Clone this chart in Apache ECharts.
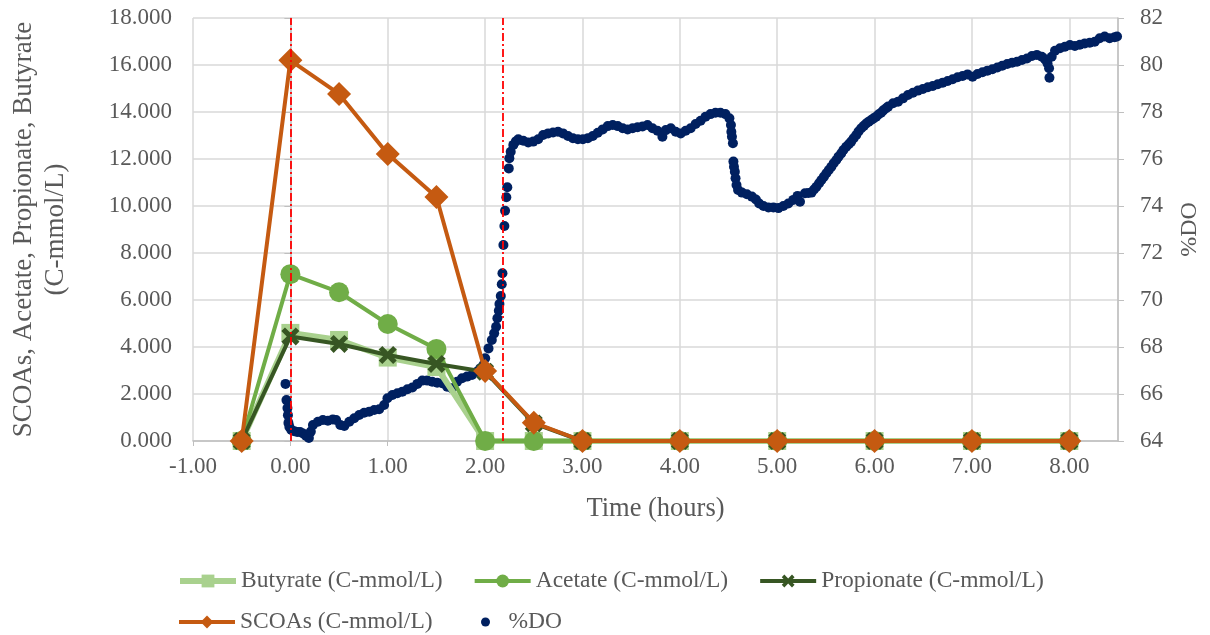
<!DOCTYPE html>
<html><head><meta charset="utf-8">
<script src="https://cdn.jsdelivr.net/npm/echarts@6/dist/echarts.min.js"></script>
<style>html,body{margin:0;padding:0;background:#fff}#c{width:1210px;height:635px}</style>
</head><body><div id="c"></div>
<script>
// ---------------- data ----------------
const sampleTimes = [-0.5, 0, 0.5, 1, 1.5, 2, 2.5, 3, 4, 5, 6, 7, 8];
const butyrate   = [0, 4.60, 4.30, 3.55, 3.15, 0, 0, 0, 0, 0, 0, 0, 0];
const acetate    = [0, 7.10, 6.33, 4.98, 3.92, 0, 0, 0, 0, 0, 0, 0, 0];
const propionate = [0, 4.45, 4.13, 3.66, 3.28, 2.95, 0.75, 0, 0, 0, 0, 0, 0];
const scoas      = [0, 16.20, 14.77, 12.21, 10.38, 2.98, 0.78, 0, 0, 0, 0, 0, 0];

const doTime = [
 -0.05,-0.04,-0.03,-0.025,-0.02,-0.01,0.01,0.04,0.07,0.10,0.13,0.16,0.19,0.21,
 0.232,0.283,0.334,0.385,0.436,0.470,0.513,0.554,0.605,0.656,0.707,0.758,0.810,0.861,0.912,0.963,
 0.997,1.048,1.099,1.150,1.202,1.253,1.304,1.355,1.406,1.457,1.508,1.559,1.610,1.661,1.712,1.763,
 1.814,1.865,1.916,1.950,1.983,
 2.001,2.035,2.069,2.093,2.113,2.126,2.141,2.147,2.161,2.171,2.178,2.188,2.198,2.205,2.218,2.228,
 2.243,2.249,2.263,2.290,2.316,
 2.341,2.392,2.443,2.494,2.545,2.596,2.647,2.698,2.749,2.800,2.851,2.902,2.953,3.004,3.055,3.106,
 3.157,3.208,3.260,3.311,3.362,3.413,3.464,3.515,3.566,3.617,3.668,3.719,3.770,3.821,3.856,3.907,
 3.958,4.009,4.060,4.111,4.162,4.213,4.264,4.315,4.366,4.417,4.468,4.509,4.525,4.529,4.535,4.545,
 4.550,4.556,4.565,4.572,4.582,4.598,4.638,4.689,4.740,4.781,4.815,4.859,4.910,4.961,5.012,5.063,
 5.114,5.165,5.209,5.234,5.285,5.32,5.352,5.378,5.403,5.43,5.454,5.48,5.505,5.53,5.556,5.58,5.607,
 5.63,5.658,5.68,5.709,5.735,5.760,5.785,5.812,5.835,5.863,5.89,5.914,5.94,5.965,5.99,6.016,6.04,
 6.067,6.09,6.118,
 6.139,6.190,6.241,6.292,6.343,6.394,6.445,6.496,6.547,6.598,6.649,6.700,6.751,6.802,6.853,6.904,
 6.955,7.006,7.057,7.108,7.159,7.210,7.261,7.311,7.362,7.413,7.463,7.514,7.565,7.616,7.667,7.718,
 7.751,7.776,7.792,7.796,7.819,7.853,7.904,7.955,8.006,8.057,8.108,8.159,8.210,8.261,8.312,8.363,
 8.414,8.465,8.490
];
const doValue = [
 66.43,65.74,65.40,65.10,64.77,64.60,64.47,64.42,64.38,64.38,64.32,64.22,64.13,64.40,
 64.68,64.82,64.89,64.86,64.92,64.89,64.68,64.64,64.82,64.97,65.11,65.20,65.25,65.32,65.35,65.53,
 65.82,65.96,66.03,66.10,66.20,66.28,66.43,66.57,66.57,66.52,66.48,66.46,66.31,66.24,66.52,66.67,
 66.74,66.81,66.95,67.09,67.23,
 67.52,67.94,68.30,68.58,68.86,69.22,69.54,69.83,70.17,70.67,71.14,72.34,73.15,73.80,74.37,74.80,
 75.60,76.03,76.31,76.60,76.75,
 76.84,76.78,76.70,76.74,76.84,77.02,77.09,77.13,77.16,77.09,76.98,76.88,76.84,76.84,76.88,76.98,
 77.12,77.26,77.40,77.45,77.40,77.31,77.26,77.31,77.35,77.38,77.45,77.31,77.20,76.95,77.23,77.31,
 77.16,77.09,77.20,77.31,77.49,77.63,77.80,77.91,77.97,77.97,77.91,77.73,77.45,77.16,76.95,76.67,
 75.89,75.67,75.46,75.18,74.89,74.68,74.57,74.50,74.40,74.28,74.11,74.00,73.94,73.94,73.91,74.00,
 74.11,74.26,74.43,74.18,74.54,74.55,74.57,74.70,74.82,74.97,75.11,75.25,75.39,75.53,75.67,75.82,75.96,
 76.10,76.24,76.38,76.52,76.63,76.74,76.88,77.02,77.17,77.31,77.41,77.51,77.59,77.66,77.73,77.80,77.89,
 77.97,78.07,78.16,
 78.23,78.37,78.44,78.58,78.72,78.82,78.91,78.98,79.05,79.11,79.18,79.25,79.32,79.39,79.48,79.53,
 79.60,79.50,79.62,79.69,79.76,79.82,79.89,79.97,80.04,80.10,80.14,80.21,80.28,80.38,80.43,80.35,
 80.24,80.07,79.86,79.46,80.35,80.61,80.71,80.78,80.85,80.81,80.86,80.92,80.95,80.99,81.14,81.21,
 81.14,81.18,81.21
];
const phaseLines = [0, 2.18];
const names = ['Butyrate (C-mmol/L)', 'Acetate (C-mmol/L)', 'Propionate (C-mmol/L)', 'SCOAs (C-mmol/L)', '%DO'];

// ---------------- chart ----------------
const FONT = '"Liberation Serif","Times New Roman",serif';
const TXT = '#595959';
const pairs = (xs, ys) => xs.map((x, i) => [x, ys[i]]);
const X_MARK = 'path://M2,0 L5,3 L8,0 L10,2 L7,5 L10,8 L8,10 L5,7 L2,10 L0,8 L3,5 L0,2 Z';

const chart = echarts.init(document.getElementById('c'), null, {renderer: 'canvas'});
const lineSeries = (name, data, color, symbol, size, width, z) => ({
  name, type: 'line', data, z, symbol, symbolSize: size, showSymbol: true,
  lineStyle: {color, width}, itemStyle: {color}, emphasis: {disabled: true}
});
const legendText = {fontFamily: FONT, fontSize: 23.5, color: TXT};
chart.setOption({
  animation: false,
  backgroundColor: '#ffffff',
  grid: {left: 192, right: 89, top: 18, bottom: 194, containLabel: false},
  xAxis: {
    type: 'value', min: -1, max: 8.5, interval: 1,
    name: 'Time (hours)', nameLocation: 'middle', nameGap: 55,
    nameTextStyle: {fontFamily: FONT, fontSize: 26.5, color: TXT},
    axisLine: {show: true, onZero: false, lineStyle: {color: '#BFBFBF', width: 1.5}},
    axisTick: {show: true, length: 5, lineStyle: {color: '#BFBFBF'}},
    axisLabel: {fontFamily: FONT, fontSize: 23, color: TXT, margin: 14, showMaxLabel: false,
      formatter: v => v.toFixed(2)},
    splitLine: {show: true, lineStyle: {color: '#D9D9D9', width: 1.5}}
  },
  yAxis: [{
    type: 'value', min: 0, max: 18, interval: 2, position: 'left',
    name: 'SCOAs, Acetate, Propionate, Butyrate\n(C-mmol/L)', nameLocation: 'middle', nameRotate: 90, nameGap: 121,
    nameTextStyle: {fontFamily: FONT, fontSize: 27, color: TXT, lineHeight: 32, align: 'center'},
    axisLine: {show: true, lineStyle: {color: '#BFBFBF', width: 1.5}},
    axisTick: {show: true, length: 6, lineStyle: {color: '#BFBFBF'}},
    axisLabel: {fontFamily: FONT, fontSize: 23, color: TXT, margin: 21, formatter: v => v.toFixed(3)},
    splitLine: {show: true, lineStyle: {color: '#D9D9D9', width: 1.5}}
  }, {
    type: 'value', min: 64, max: 82, interval: 2, position: 'right',
    name: '%DO', nameLocation: 'middle', nameRotate: 90, nameGap: 60,
    nameTextStyle: {fontFamily: FONT, fontSize: 24, color: TXT},
    axisLine: {show: true, lineStyle: {color: '#BFBFBF', width: 1.5}},
    axisTick: {show: true, length: 6, lineStyle: {color: '#BFBFBF'}},
    axisLabel: {fontFamily: FONT, fontSize: 23, color: TXT, margin: 22},
    splitLine: {show: false}
  }],
  legend: [{
    data: [
      {name: names[0], lineStyle: {width: 6}},
      {name: names[1], lineStyle: {width: 4}},
      {name: names[2], lineStyle: {width: 4}}
    ],
    left: 172, top: 564, itemWidth: 56, itemHeight: 16, itemGap: 30,
    textStyle: legendText, selectedMode: false
  }, {
    data: [{name: names[3], lineStyle: {width: 4}}], left: 172, top: 605, itemWidth: 56, itemHeight: 16,
    textStyle: legendText, selectedMode: false
  }, {
    data: [names[4]], left: 476, top: 605, itemWidth: 36, itemHeight: 9,
    textStyle: legendText, selectedMode: false
  }],
  series: [
    lineSeries(names[0], pairs(sampleTimes, butyrate), '#A9D18E', 'rect', 18, 6, 3),
    lineSeries(names[1], pairs(sampleTimes, acetate), '#70AD47', 'circle', 20, 4, 4),
    lineSeries(names[2], pairs(sampleTimes, propionate), '#375623', X_MARK, 18, 4, 5),
    lineSeries(names[3], pairs(sampleTimes, scoas), '#C55A11', 'diamond', 24, 4, 6),
    {
      name: names[4], type: 'scatter', yAxisIndex: 1, z: 2,
      data: pairs(doTime, doValue), symbol: 'circle', symbolSize: 10,
      itemStyle: {color: '#002060', opacity: 1}, emphasis: {disabled: true},
      markLine: {
        silent: true, symbol: 'none', z: 10,
        label: {show: false},
        lineStyle: {color: '#FF0000', width: 1.8, type: [8, 3, 2, 3]},
        data: phaseLines.map(v => ({xAxis: v}))
      }
    }
  ]
});
</script></body></html>
